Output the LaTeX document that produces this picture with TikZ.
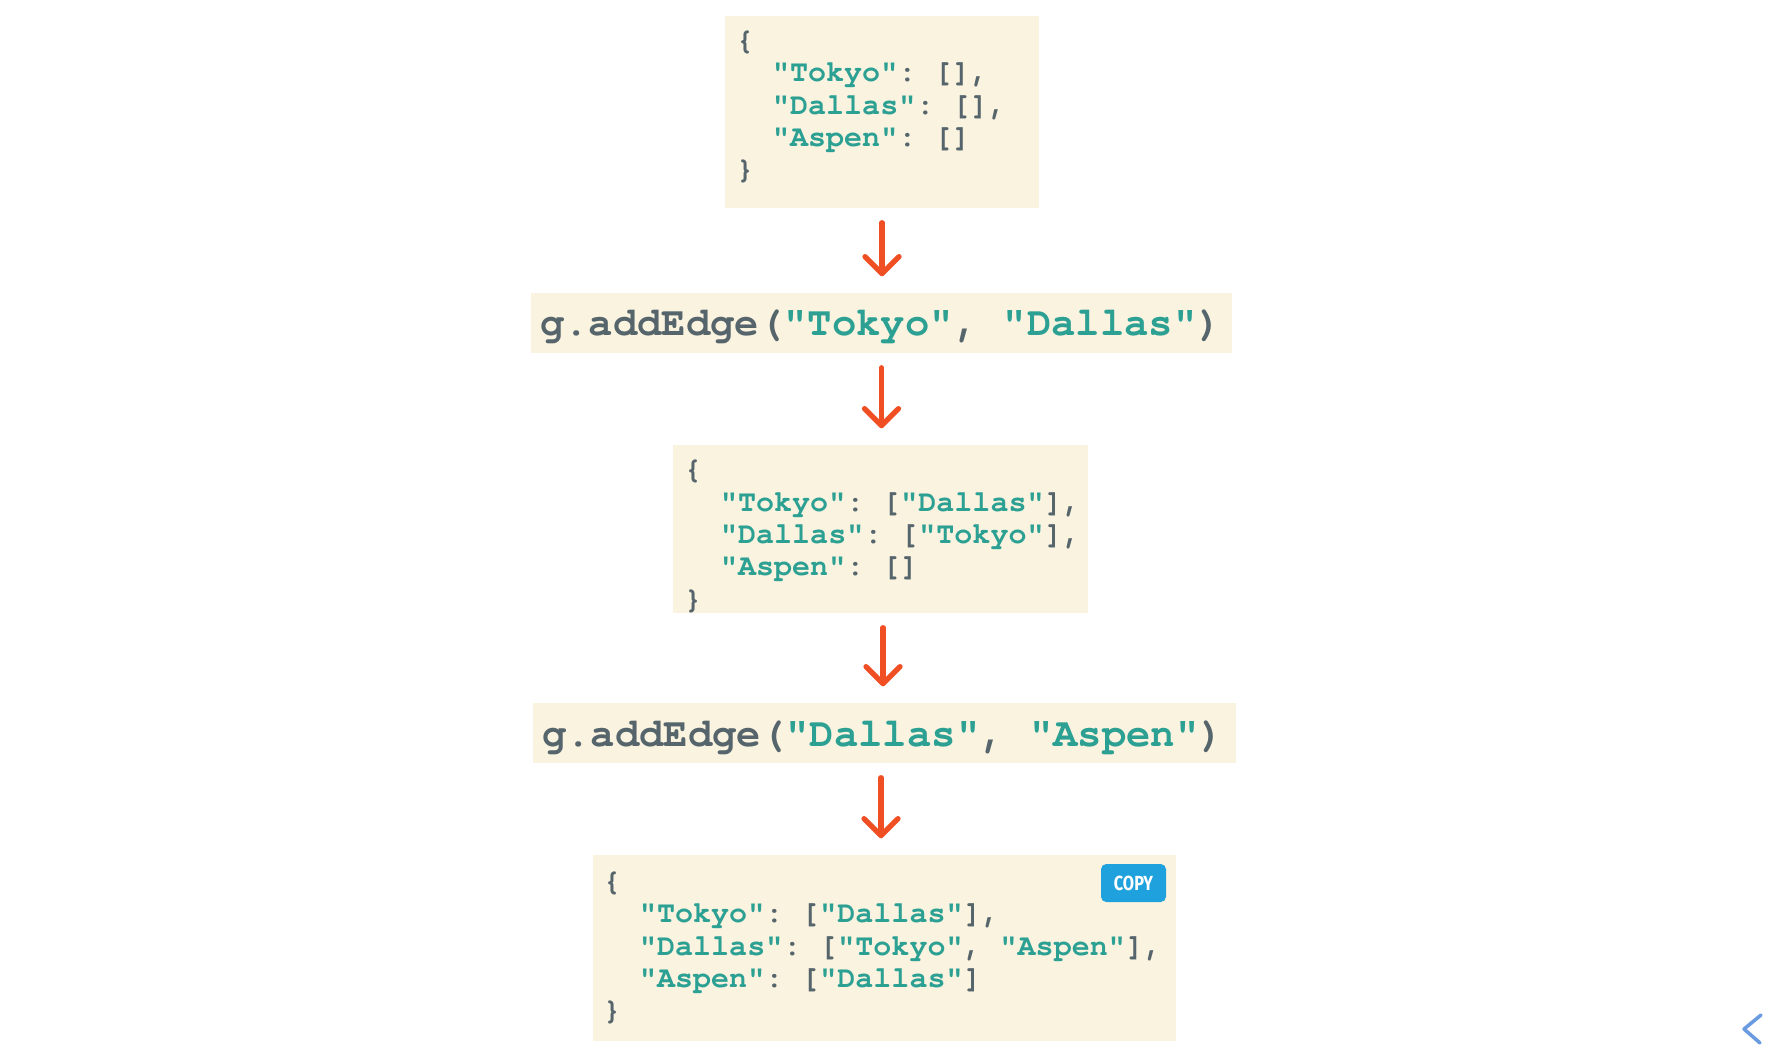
\documentclass[tikz,border=0pt]{standalone}
\usepackage{fontspec}
\setmonofont{TeX Gyre Cursor}
\newfontfamily\btnfont[FakeStretch=0.8]{Fira Sans}
\usetikzlibrary{arrows.meta,positioning}

\definecolor{codebg}{HTML}{FAF3E0}
\definecolor{codestr}{HTML}{2BA093}
\definecolor{codepun}{HTML}{56656B}
\definecolor{flowred}{HTML}{F04E23}
\definecolor{copyblue}{HTML}{1EA1DC}
\definecolor{navblue}{HTML}{6A9BE0}

\newcommand\jstr[1]{\textcolor{codestr}{"#1"}}
\newcommand\ind{\hphantom{xx}}

\begin{document}
\begin{tikzpicture}[
  codebox/.style={fill=codebg, inner sep=0pt},
  jsontext/.style={text=codepun, align=left, inner sep=0pt,
    font=\ttfamily\bfseries\fontsize{8.55pt}{9.2pt}\selectfont},
  calltext/.style={text=codepun, inner sep=0pt,
    font=\ttfamily\bfseries\fontsize{11.55pt}{13pt}\selectfont},
  flow/.style={draw=flowred, line width=1.5pt, line cap=round,
    -{Straight Barb[length=0.17cm, width=0.34cm, line cap=round, line join=round]},
    shorten <=0.14cm, shorten >=0.16cm},
  copybtn/.style={fill=copyblue, text=white, rounded corners=1.5pt, inner sep=0pt,
    minimum width=0.65cm, minimum height=0.38cm, font=\btnfont\bfseries\fontsize{5.8pt}{6pt}\selectfont}
]
\fill[white] (0,0) rectangle (17.76,-10.48);
\useasboundingbox (0,0) rectangle (17.76,-10.48);

% empty graph
\node[codebox, minimum width=3.14cm, minimum height=1.92cm] (empty) at (8.82,-1.12) {};
\node[jsontext, right=0.11cm of empty.west, yshift=0.05cm] (emptyTxt)
  {\{\\ \ind\jstr{Tokyo}: [],\\ \ind\jstr{Dallas}: [],\\ \ind\jstr{Aspen}: []\\ \}};

% first edge
\node[codebox, minimum width=7.01cm, minimum height=0.6cm] (edgeTD) at (8.815,-3.23) {};
\node[calltext, right=0.09cm of edgeTD.west, yshift=-0.034cm] (edgeTDTxt)
  {g.addEdge(\jstr{Tokyo}, \jstr{Dallas})};

\node[codebox, minimum width=4.15cm, minimum height=1.68cm] (graphTD) at (8.805,-5.29) {};
\node[jsontext, right=0.11cm of graphTD.west, yshift=-0.074cm] (graphTDTxt)
  {\{\\ \ind\jstr{Tokyo}: [\jstr{Dallas}],\\ \ind\jstr{Dallas}: [\jstr{Tokyo}],\\ \ind\jstr{Aspen}: []\\ \}};

% second edge
\node[codebox, minimum width=7.03cm, minimum height=0.6cm] (edgeDA) at (8.845,-7.33) {};
\node[calltext, right=0.09cm of edgeDA.west, yshift=-0.045cm] (edgeDATxt)
  {g.addEdge(\jstr{Dallas}, \jstr{Aspen})};

\node[codebox, minimum width=5.83cm, minimum height=1.86cm] (graphDA) at (8.845,-9.48) {};
\node[jsontext, right=0.10cm of graphDA.west] (graphDATxt)
  {\{\\ \ind\jstr{Tokyo}: [\jstr{Dallas}],\\ \ind\jstr{Dallas}: [\jstr{Tokyo}, \jstr{Aspen}],\\ \ind\jstr{Aspen}: [\jstr{Dallas}]\\ \}};
\node[copybtn, below left=0.09cm and 0.10cm of graphDA.north east] (copy) {COPY};

\draw[flow] (empty.south) -- (empty.south |- edgeTD.north);
\draw[flow] (edgeTD.south) -- (edgeTD.south |- graphTD.north);
\draw[flow] ([xshift=0.025cm]graphTD.south) -- ([xshift=0.025cm]graphTD.south |- edgeDA.north);
\draw[flow] ([xshift=-0.035cm]edgeDA.south) -- ([xshift=-0.035cm]edgeDA.south |- graphDA.north);

% back button
\draw[navblue, line width=1pt, line cap=round, line join=round]
  (17.61,-10.15) -- (17.44,-10.29) -- (17.60,-10.43);
\end{tikzpicture}
\end{document}
